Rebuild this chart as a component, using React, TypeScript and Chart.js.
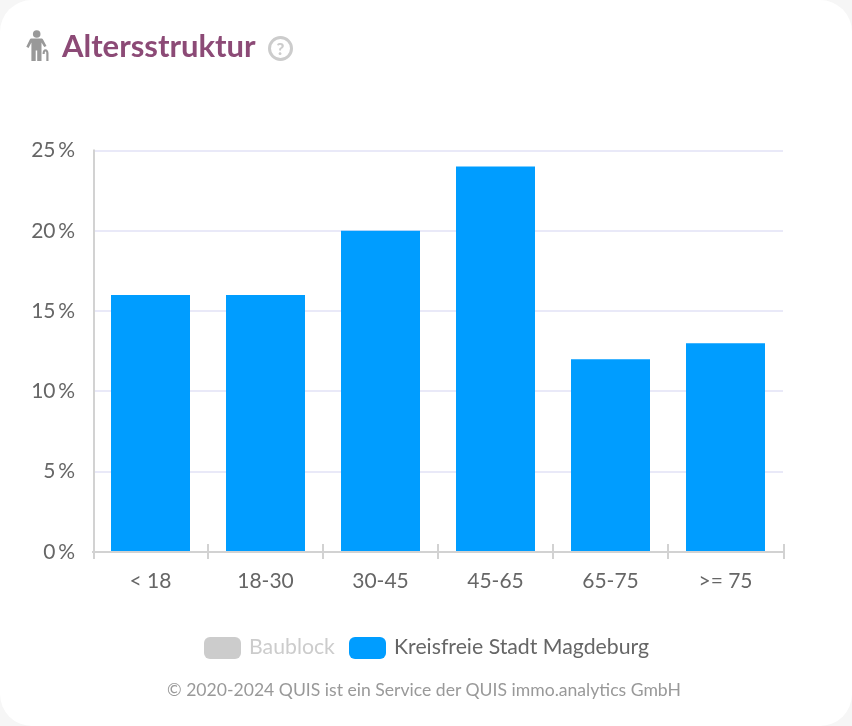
import React, { useEffect, useRef } from "react";
import { Chart, registerables } from "chart.js";

Chart.register(...registerables);

const categories = ["< 18", "18-30", "30-45", "45-65", "65-75", ">= 75"];
const magdeburgValues = [16, 16, 20, 24, 12, 13];
const baublockValues: (number | null)[] = [null, null, null, null, null, null];
const yTicks = [0, 5, 10, 15, 20, 25];
const FONT = "Lato, 'Noto Sans', sans-serif";

const innerTicks = {
  id: "innerTicks",
  afterDraw(chart: any) {
    const { ctx, scales } = chart;
    const x = scales.x;
    const y = scales.y;
    const n = categories.length;
    ctx.save();
    ctx.strokeStyle = "#d2d2d2";
    ctx.lineWidth = 2;
    for (let i = 0; i <= n; i++) {
      const px = Math.round(x.left + (i * x.width) / n) + (i === 0 || i === n ? 1 : 0);
      ctx.beginPath();
      ctx.moveTo(px, i === 0 ? y.top - 1 : x.top - 8);
      ctx.lineTo(px, x.top + 7);
      ctx.stroke();
    }
    ctx.restore();
  },
};

export default function App() {
  const ref = useRef<HTMLCanvasElement>(null);
  useEffect(() => {
    const chart = new Chart(ref.current!, {
      type: "bar",
      data: {
        labels: categories,
        datasets: [
          { label: "Baublock", data: baublockValues, backgroundColor: "#cccccc", hidden: true },
          { label: "Kreisfreie Stadt Magdeburg", data: magdeburgValues, backgroundColor: "#009dff", barPercentage: 0.687, categoryPercentage: 1 },
        ],
      },
      options: {
        animation: false,
        responsive: false,
        layout: { autoPadding: false, padding: { left: 0, top: 150.5, right: 69, bottom: 130 } },
        plugins: { legend: { display: false }, title: { display: false }, tooltip: { enabled: false } },
        scales: {
          x: {
            afterFit: (s: any) => { s.height = 44; },
            grid: { display: false },
            border: { color: "#d2d2d2", width: 2 },
            ticks: { color: "#666666", font: { family: FONT, size: 21 }, padding: 9, maxRotation: 0 },
          },
          y: {
            min: 0,
            max: 25,
            afterFit: (s: any) => { s.width = 93; },
            afterBuildTicks: (s: any) => { s.ticks = yTicks.map((value) => ({ value })); },
            grid: { color: (c: any) => (c.tick.value === 0 ? "rgba(0,0,0,0)" : "#e9e9f8"), lineWidth: 2, drawTicks: false },
            border: { display: false },
            ticks: { color: "#666666", font: { family: FONT, size: 21 }, padding: 18, callback: (v: any) => `${v}\u2009%` },
          },
        },
      },
      plugins: [innerTicks],
    } as any);
    return () => chart.destroy();
  }, []);

  const swatch = (bg: string): React.CSSProperties => ({
    position: "absolute", top: 637, width: 37, height: 22, borderRadius: 6, background: bg,
  });
  const abs = (left: number, top: number, extra: React.CSSProperties): React.CSSProperties => ({
    position: "absolute", left, top, fontFamily: FONT, whiteSpace: "nowrap", ...extra,
  });

  return (
    <div style={{ position: "fixed", left: 0, top: 0, width: 852, height: 726, background: "#f6f6f6", overflow: "hidden" }}>
      <div style={{ position: "absolute", inset: 0, background: "#ffffff", borderRadius: 32 }} />
      <canvas ref={ref} width={852} height={726} style={{ position: "absolute", left: 0, top: 0, display: "block" }} />
      <svg style={{ position: "absolute", left: 20, top: 25 }} width={40} height={40} viewBox="0 0 40 40">
        <circle cx="16.7" cy="9" r="3.800" fill="#999" />
        <path d="M10 13.500h11c1 0 1.800.5 2.300 1.400l3.200 6-2.300 1.200-2.700-4.600v18.500h-4.300V25.500h-1.500v10.500h-4.300V17.500l-2.800 5.400-2.300-1.200 3.400-7c.4-.8.900-1.200 1.600-1.200z" fill="#999" />
        <path d="M22.500 29c0-3 1.200-4.800 3-4.800s3 1.700 3 4v7.800h-2.200v-7.800c0-1-.2-1.700-.8-1.700s-.8.900-.8 2.500z" fill="#999" />
      </svg>
      <div style={abs(62, 26, { fontSize: 31, lineHeight: "38px", fontWeight: 700, color: "#8c4a76" })}>Altersstruktur</div>
      <div style={{ position: "absolute", left: 268, top: 36, width: 25, height: 25, boxSizing: "border-box", border: "3px solid #cccccc", borderRadius: "50%", fontFamily: FONT, fontWeight: 900, fontSize: 17, lineHeight: "19px", textAlign: "center", color: "#cccccc" }}>?</div>
      <div style={{ ...swatch("#cccccc"), left: 204 }} />
      <div style={abs(249, 633, { fontSize: 21.25, lineHeight: "26px", color: "#cccccc" })}>Baublock</div>
      <div style={{ ...swatch("#009dff"), left: 349 }} />
      <div style={abs(394, 633, { fontSize: 21.25, lineHeight: "26px", color: "#666666" })}>Kreisfreie Stadt Magdeburg</div>
      <div style={abs(167, 679, { fontSize: 17.6, lineHeight: "22px", color: "#999999" })}>© 2020-2024 QUIS ist ein Service der QUIS immo.analytics GmbH</div>
    </div>
  );
}
